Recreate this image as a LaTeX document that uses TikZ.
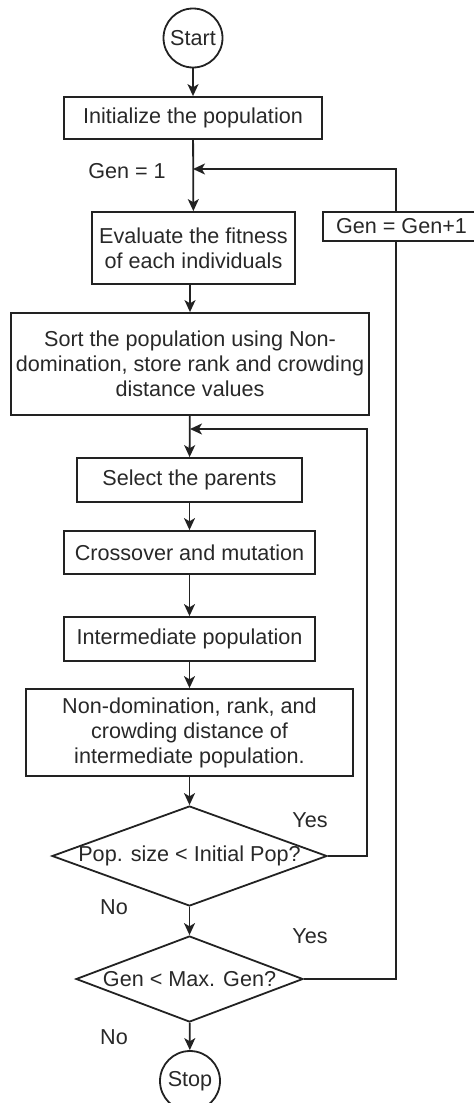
\documentclass[tikz,border=0pt]{standalone}
\usepackage{fontspec}
\setmainfont{Liberation Sans}
\usetikzlibrary{shapes.geometric,arrows.meta}
\definecolor{ln}{RGB}{34,34,34}
\definecolor{tx}{RGB}{40,40,40}
\begin{document}
\begin{tikzpicture}[x=0.5pt,y=-0.5pt,
  every node/.style={font=\fontsize{10.8}{12.5}\selectfont, text=tx, inner sep=0pt, align=center},
  box/.style={draw=ln, line width=0.9pt, rectangle},
  term/.style={draw=ln, line width=0.9pt, circle},
  dec/.style={draw=ln, line width=0.9pt, diamond, aspect=1},
  conn/.style={draw=ln, line width=0.9pt},
  arr/.style={conn, -{Stealth[length=6pt,width=5.5pt,inset=1.6pt]}}
]
\path[use as bounding box] (0,0) rectangle (474,1103);
\clip (0,0) rectangle (474,1103);

\node[term, minimum size=29.5pt] (start) at (193,38) {Start};
\node[box, minimum width=129pt, minimum height=21pt] (init) at (193,118) {Initialize the population};
\node (gen1) at (127,171) {Gen = 1};
\node[box, minimum width=101.5pt, minimum height=36pt] (eval) at (193.5,248) {Evaluate the fitness\\of each individuals};
\node[box, minimum width=78.5pt, minimum height=14.5pt] (gp) at (401.5,226.5) {Gen = Gen+1};
\node[box, minimum width=179pt, minimum height=51pt] (sort) at (190,364) {Sort the population using Non-\\domination, store rank and crowding\\distance values};
\node[box, minimum width=112.5pt, minimum height=22pt] (sel) at (189.5,480) {Select the parents};
\node[box, minimum width=125.5pt, minimum height=21.5pt] (cross) at (189.5,552.5) {Crossover and mutation};
\node[box, minimum width=125.5pt, minimum height=22pt] (inter) at (189.5,639) {Intermediate population};
\node[box, minimum width=163.5pt, minimum height=43.5pt] (nd) at (189.5,732.5) {Non-domination, rank, and\\crowding distance of\\intermediate population.};
\node[dec, minimum width=137.5pt, minimum height=50pt] (d1) at (189.5,856) {\makebox[0pt][c]{Pop. size < Initial Pop?}};
\node[dec, minimum width=113.5pt, minimum height=43pt] (d2) at (189.5,979) {\makebox[0pt][c]{Gen < Max. Gen?}};
\node[term, minimum size=30pt] (stop) at (190,1081) {Stop};

\node (yes1) at (310,820) {Yes};
\node (yes2) at (310,936) {Yes};
\node (no1) at (114,907) {No};
\node (no2) at (114,1037) {No};

\coordinate (r1) at (367,429);
\coordinate (r2) at (396,169);

\draw[arr] (start) -- (init);
\draw[arr] (init) -- (eval);
\draw[arr] (sort.north |- eval.south) -- (sort.north);
\draw[arr] (sort) -- (sel);
\draw[arr] (sel) -- (cross);
\draw[arr] (cross) -- (inter);
\draw[arr] (inter) -- (nd);
\draw[arr] (nd) -- (d1);
\draw[arr] (d1) -- (d2);
\draw[arr] (d2) -- (stop);

\draw[arr] (d1.east) -| (r1) -- (sort.south |- r1);
\draw[conn] (d2.east) -| (r2 |- gp.south);
\draw[arr] (r2 |- gp.north) -- (r2) -- (init.south |- r2);
\end{tikzpicture}
\end{document}
